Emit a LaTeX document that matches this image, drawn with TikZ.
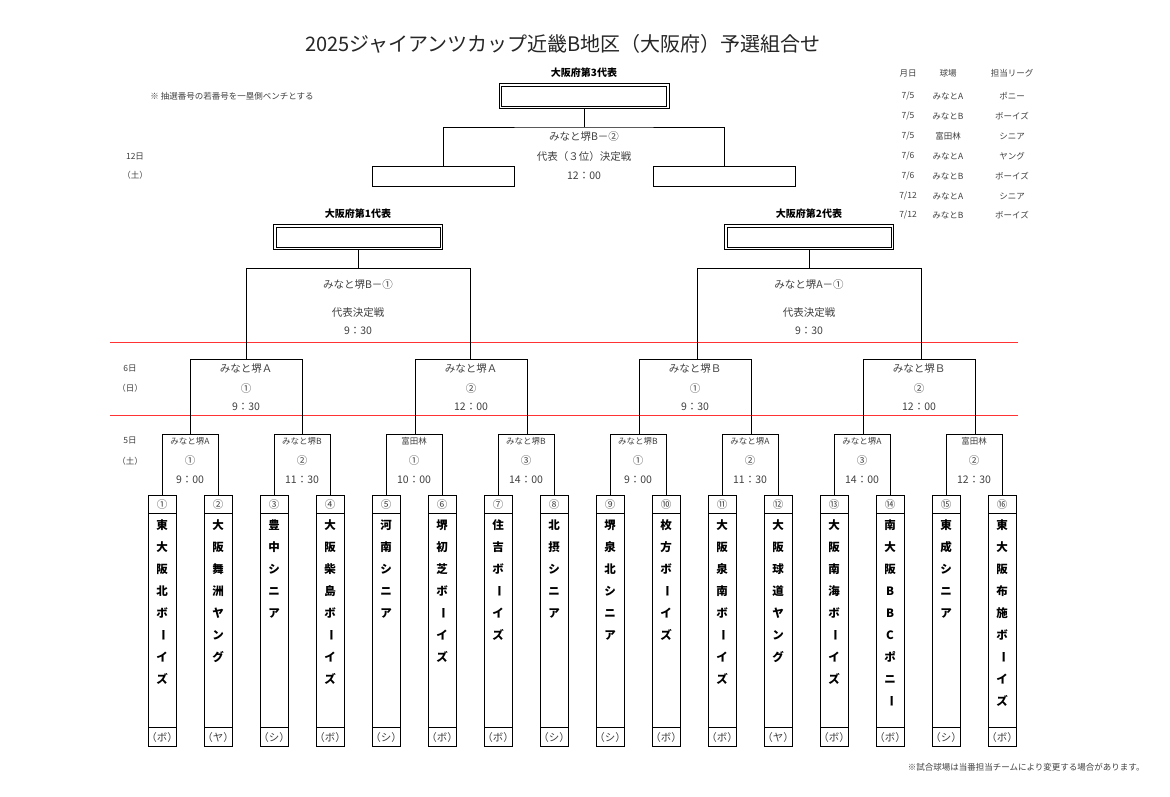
\documentclass[tikz,border=0pt]{standalone}
\usepackage{fontspec}
\setmainfont{Noto Sans CJK JP}
\newcommand\vbarch{\rotatebox[origin=c]{-90}{ー}}
\begin{document}
\begin{tikzpicture}[x=1pt,y=-1pt,line width=0.9pt,
  lbl/.style={text=black!75,font=\fontsize{10.5}{12}\selectfont,inner sep=0},
  sml/.style={text=black!75,font=\fontsize{8.5}{10}\selectfont,inner sep=0},
  hd/.style={font=\bfseries\fontsize{10}{12}\selectfont,inner sep=0},
  dbl/.style={draw,line width=0.8pt,inner sep=0,
    append after command={\pgfextra{\draw[line width=0.8pt] ([shift={(3pt,3pt)}]\tikzlastnode.south west) rectangle ([shift={(-3pt,-3pt)}]\tikzlastnode.north east);}}},
  tbox/.style={draw,minimum width=28pt,minimum height=251pt,inner sep=0},
  redl/.style={red!80,line width=0.8pt}]
\useasboundingbox (0,0) rectangle (1170,796);
\fill[white] (0,0) rectangle (1170,796);
\node[font=\fontsize{20}{24}\selectfont,text=black!85] (title) at (563,44) {2025ジャイアンツカップ近畿B地区（大阪府）予選組合せ};
\node[sml,anchor=west] (note) at (150,96) {※ 抽選番号の若番号を一塁側ベンチとする};
\node[sml,anchor=east] (foot) at (1145,767) {※試合球場は当番担当チームにより変更する場合があります。};
\foreach \d/\v/\l/\y in {月日/球場/担当リーグ/73,7{/}5/みなとA/ポニー/96,7{/}5/みなとB/ボーイズ/116,7{/}5/富田林/シニア/136,7{/}6/みなとA/ヤング/156,7{/}6/みなとB/ボーイズ/176,7{/}12/みなとA/シニア/196,7{/}12/みなとB/ボーイズ/215}{
  \node[sml] at (908,\y) {\d};
  \node[sml] at (948,\y) {\v};
  \node[sml] at (1012,\y) {\l};
}
\node[sml] (d12) at (135,157) {12日};
\node[sml] (d12b) at (135,175) {（土）};
\node[sml] (d6) at (130,369) {6日};
\node[sml] (d6b) at (130,388) {（日）};
\node[sml] (d5) at (130,441) {5日};
\node[sml] (d5b) at (130,461) {（土）};
\draw[redl] (110,342) -- (1018,342);
\draw[redl] (110,415) -- (1018,415);
\node[hd] (h3) at (584,73) {大阪府第3代表};
\node[dbl,minimum width=170pt,minimum height=25pt] (r3) at (584,96) {};
\node[draw,minimum width=142pt,minimum height=20pt,inner sep=0] (sl) at (443,176) {};
\node[draw,minimum width=142pt,minimum height=20pt,inner sep=0] (sr) at (724,176) {};
\draw (r3.south) -- (584,127) coordinate (tm);
\draw (sl.north) |- (tm) -| (sr.north);
\node[lbl] at (584,137) {みなと堺B－②};
\node[lbl] at (584,157) {代表（３位）決定戦};
\node[lbl] at (584,176) {12：00};
\foreach \c/\n/\v in {358/1/みなと堺B－①,809/2/みなと堺A－①}{
  \node[hd] (h\n) at (\c,214) {大阪府第\n 代表};
  \node[dbl,minimum width=169pt,minimum height=25pt] (r\n) at (\c,237) {};
  \draw (r\n.south) -- (\c,268);
  \draw (\c-112,359) -- (\c-112,268) -- (\c+112,268) -- (\c+112,359);
  \node[lbl] at (\c,285) {\v};
  \node[lbl] at (\c,313) {代表決定戦};
  \node[lbl] at (\c,331) {9：30};
}
\foreach \c/\v/\nn/\t in {246/みなと堺Ａ/①/9：30,471/みなと堺Ａ/②/12：00,695/みなと堺Ｂ/①/9：30,919/みなと堺Ｂ/②/12：00}{
  \draw (\c-56,434) -- (\c-56,359) -- (\c+56,359) -- (\c+56,434);
  \node[lbl] at (\c,369) {\v};
  \node[lbl] at (\c,389) {\nn};
  \node[lbl] at (\c,407) {\t};
}
\foreach \c/\v/\nn/\t in {190/みなと堺A/①/9：00,302/みなと堺B/②/11：30,414/富田林/①/10：00,526/みなと堺B/③/14：00,638/みなと堺B/①/9：00,750/みなと堺A/②/11：30,862/みなと堺A/③/14：00,974/富田林/②/12：30}{
  \draw (\c-28,495) -- (\c-28,434) -- (\c+28,434) -- (\c+28,495);
  \node[sml] at (\c,441) {\v};
  \node[lbl] at (\c,461) {\nn};
  \node[lbl] at (\c,480) {\t};
}
\foreach \x/\nm/\chars/\lg [count=\k] in {
162/①/{東,大,阪,北,ボ,\vbarch,イ,ズ}/ボ,
218/②/{大,阪,舞,洲,ヤ,ン,グ}/ヤ,
274/③/{豊,中,シ,ニ,ア}/シ,
330/④/{大,阪,柴,島,ボ,\vbarch,イ,ズ}/ボ,
386/⑤/{河,南,シ,ニ,ア}/シ,
442/⑥/{堺,初,芝,ボ,\vbarch,イ,ズ}/ボ,
498/⑦/{住,吉,ボ,\vbarch,イ,ズ}/ボ,
554/⑧/{北,摂,シ,ニ,ア}/シ,
610/⑨/{堺,泉,北,シ,ニ,ア}/シ,
666/⑩/{枚,方,ボ,\vbarch,イ,ズ}/ボ,
722/⑪/{大,阪,泉,南,ボ,\vbarch,イ,ズ}/ボ,
778/⑫/{大,阪,球,道,ヤ,ン,グ}/ヤ,
834/⑬/{大,阪,南,海,ボ,\vbarch,イ,ズ}/ボ,
890/⑭/{南,大,阪,B,B,C,ポ,ニ,\vbarch}/ボ,
946/⑮/{東,成,シ,ニ,ア}/シ,
1002/⑯/{東,大,阪,布,施,ボ,\vbarch,イ,ズ}/ボ}{
  \node[tbox] (t\k) at (\x,620.5) {};
  \draw (\x-14,513) -- (\x+14,513) (\x-14,727) -- (\x+14,727);
  \node[lbl] at (\x,504) {\nm};
  \node[lbl] at (\x,737) {（\lg）};
  \foreach \ch [count=\j from 0] in \chars {
    \node[hd,font=\bfseries\fontsize{11.5}{12}\selectfont] at (\x,525+22*\j) {\ch};
  }
}
\end{tikzpicture}
\end{document}
